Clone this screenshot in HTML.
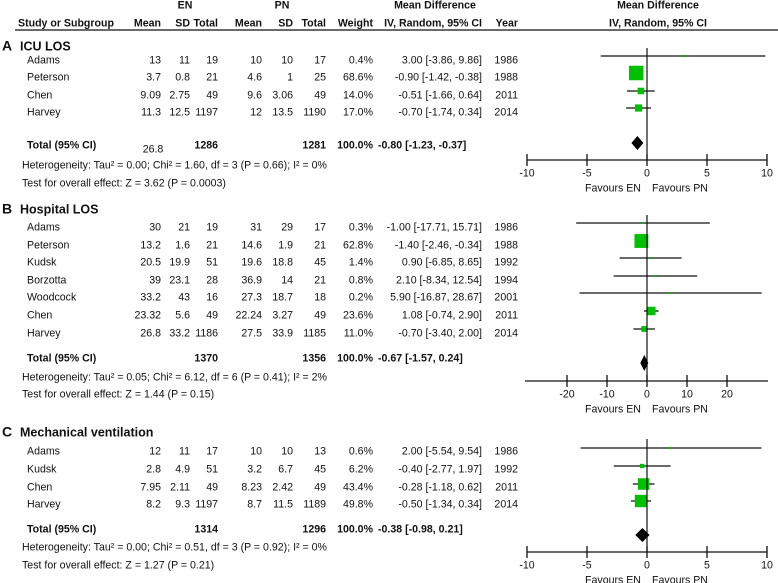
<!DOCTYPE html>
<html><head><meta charset="utf-8"><style>
body{margin:0;background:#fff}
svg{display:block;font-family:"Liberation Sans",Arial,sans-serif;font-size:10.6px;fill:#111}
.b{font-weight:bold}
</style></head><body>
<svg id="c" width="778" height="583" viewBox="0 0 778 583"></svg>
<script>
const panelLabels=["A","B","C"];
const panelTitles=["ICU LOS","Hospital LOS","Mechanical ventilation"];
const studiesA=["Adams","Peterson","Chen","Harvey"];
const studiesB=["Adams","Peterson","Kudsk","Borzotta","Woodcock","Chen","Harvey"];
const studiesC=["Adams","Kudsk","Chen","Harvey"];
const tableA=[["13","11","19","10","10","17","0.4%","3.00 [-3.86, 9.86]","1986"],["3.7","0.8","21","4.6","1","25","68.6%","-0.90 [-1.42, -0.38]","1988"],["9.09","2.75","49","9.6","3.06","49","14.0%","-0.51 [-1.66, 0.64]","2011"],["11.3","12.5","1197","12","13.5","1190","17.0%","-0.70 [-1.74, 0.34]","2014"]];
const tableB=[["30","21","19","31","29","17","0.3%","-1.00 [-17.71, 15.71]","1986"],["13.2","1.6","21","14.6","1.9","21","62.8%","-1.40 [-2.46, -0.34]","1988"],["20.5","19.9","51","19.6","18.8","45","1.4%","0.90 [-6.85, 8.65]","1992"],["39","23.1","28","36.9","14","21","0.8%","2.10 [-8.34, 12.54]","1994"],["33.2","43","16","27.3","18.7","18","0.2%","5.90 [-16.87, 28.67]","2001"],["23.32","5.6","49","22.24","3.27","49","23.6%","1.08 [-0.74, 2.90]","2011"],["26.8","33.2","1186","27.5","33.9","1185","11.0%","-0.70 [-3.40, 2.00]","2014"]];
const tableC=[["12","11","17","10","10","13","0.6%","2.00 [-5.54, 9.54]","1986"],["2.8","4.9","51","3.2","6.7","45","6.2%","-0.40 [-2.77, 1.97]","1992"],["7.95","2.11","49","8.23","2.42","49","43.4%","-0.28 [-1.18, 0.62]","2011"],["8.2","9.3","1197","8.7","11.5","1189","49.8%","-0.50 [-1.34, 0.34]","2014"]];
const meanA=[3.00,-0.90,-0.51,-0.70], lowA=[-3.86,-1.42,-1.66,-1.74], highA=[9.86,-0.38,0.64,0.34], weightA=[0.4,68.6,14.0,17.0];
const meanB=[-1.00,-1.40,0.90,2.10,5.90,1.08,-0.70], lowB=[-17.71,-2.46,-6.85,-8.34,-16.87,-0.74,-3.40], highB=[15.71,-0.34,8.65,12.54,28.67,2.90,2.00], weightB=[0.3,62.8,1.4,0.8,0.2,23.6,11.0];
const meanC=[2.00,-0.40,-0.28,-0.50], lowC=[-5.54,-2.77,-1.18,-1.34], highC=[9.54,1.97,0.62,0.34], weightC=[0.6,6.2,43.4,49.8];
const totalsRow=[["1286","1281","100.0%","-0.80 [-1.23, -0.37]"],["1370","1356","100.0%","-0.67 [-1.57, 0.24]"],["1314","1296","100.0%","-0.38 [-0.98, 0.21]"]];
const totalMean=[-0.80,-0.67,-0.38], totalLow=[-1.23,-1.57,-0.98], totalHigh=[-0.37,0.24,0.21];
const hetText=["Heterogeneity: Tau² = 0.00; Chi² = 1.60, df = 3 (P = 0.66); I² = 0%","Heterogeneity: Tau² = 0.05; Chi² = 6.12, df = 6 (P = 0.41); I² = 2%","Heterogeneity: Tau² = 0.00; Chi² = 0.51, df = 3 (P = 0.92); I² = 0%"];
const testText=["Test for overall effect: Z = 3.62 (P = 0.0003)","Test for overall effect: Z = 1.44 (P = 0.15)","Test for overall effect: Z = 1.27 (P = 0.21)"];
const ticksA=[-10,-5,0,5,10], ticksB=[-20,-10,0,10,20], ticksC=[-10,-5,0,5,10];

const svg=document.getElementById('c');const NS="http://www.w3.org/2000/svg";
function mk(tag,at,txt){const e=document.createElementNS(NS,tag);for(const k in at)e.setAttribute(k,at[k]);if(txt!=null)e.textContent=txt;svg.appendChild(e);return e;}
function T(x,y,s,anchor,cls,name){const e=mk('text',{x:x,y:y+3.7,'text-anchor':anchor||'start',class:cls||''},s);

return e;}
T(185,5,"EN","middle","b","en-header");T(282,5,"PN","middle","b","pn-header");
T(435,5,"Mean Difference","middle","b","md-header");T(658,5,"Mean Difference","middle","b","md-plot-header");
const hx=[[18,"Study or Subgroup","start"],[161,"Mean","end"],[190,"SD","end"],[218,"Total","end"],[262,"Mean","end"],[293,"SD","end"],[326,"Total","end"],[373,"Weight","end"],[482,"IV, Random, 95% CI","end"],[518,"Year","end"]];
hx.forEach(h=>T(h[0],23,h[1],h[2],"b","column-header"));
T(658,23,"IV, Random, 95% CI","middle","b","md-plot-subheader");
let hl=mk('line',{x1:15,y1:30,x2:778,y2:30,stroke:'#111','stroke-width':1.2});

const colX=[161,190,218,262,293,326,373,482,518];
const panels=[
 {studies:studiesA,table:tableA,mean:meanA,low:lowA,high:highA,w:weightA,ticks:ticksA,max:10,x1:767,title:47,rows:[60,77,95,112],total:145,het:165,test:183,lineOff:-4,dia:143,axis:160,axL:527,axR:767},
 {studies:studiesB,table:tableB,mean:meanB,low:lowB,high:highB,w:weightB,ticks:ticksB,max:30.25,x1:768,title:210,rows:[227,245,262,280,297,315,333],total:358,het:377,test:394,lineOff:-4,dia:363,axis:381,axL:525,axR:768},
 {studies:studiesC,table:tableC,mean:meanC,low:lowC,high:highC,w:weightC,ticks:ticksC,max:10,x1:767,title:433,rows:[451,469,487,504],total:529,het:547,test:565,lineOff:-3,dia:535,axis:552,axL:527,axR:767}];
panels.forEach((p,i)=>{
 const sx=v=>647+(v)*((p.x1-647)/p.max);
 T(2,p.title,panelLabels[i],"start","b","panel-label").setAttribute('font-size','14');
 T(20,p.title,panelTitles[i],"start","b","panel-title").setAttribute('font-size','12.5');
 p.studies.forEach((s,j)=>{const y=p.rows[j];
  T(27,y,s,"start","","study-name");
  p.table[j].forEach((v,k)=>T(colX[k],y,v,"end","","table-cell"));
  const ly=y+p.lineOff;
  let l=mk('line',{x1:Math.max(sx(p.low[j]),p.axL),y1:ly,x2:Math.min(sx(p.high[j]),p.axR),y2:ly,stroke:'#111','stroke-width':1.3});
  
  const sz=Math.max(2,Math.sqrt(p.w[j])*1.75);
  let r=mk('rect',{x:sx(p.mean[j])-sz/2,y:ly-sz/2,width:sz,height:sz,fill:'#00c000'});
  
 });
 T(27,p.total,"Total (95% CI)","start","b","total-label");
 const tr=totalsRow[i];T(218,p.total,tr[0],"end","b","total-en");T(326,p.total,tr[1],"end","b","total-pn");T(373,p.total,tr[2],"end","b","total-weight");T(378,p.total,tr[3],"start","b","total-ci");
 T(22,p.het,hetText[i],"start","","heterogeneity");T(22,p.test,testText[i],"start","","overall-effect");
 let z=mk('line',{x1:647,y1:p.rows[0]-12,x2:647,y2:p.axis,stroke:'#111','stroke-width':1.2});
 
 const a=sx(totalLow[i]),b=sx(totalHigh[i]),c=sx(totalMean[i]);const hw=Math.max(i==1?4:6,(b-a)/2);
 const hh=i==1?8:7;
 let d=mk('polygon',{points:`${c-hw},${p.dia} ${c},${p.dia-hh} ${c+hw},${p.dia} ${c},${p.dia+hh}`,fill:'#000'});
 
 let ax=mk('line',{x1:p.axL,y1:p.axis,x2:p.axR,y2:p.axis,stroke:'#111','stroke-width':1.3});
 
 p.ticks.forEach(t=>{const x=sx(t);
  let tk=mk('line',{x1:x,y1:p.axis-6,x2:x,y2:p.axis+6,stroke:'#111','stroke-width':1.3});
  
  T(x,p.axis+13,String(t),"middle","","x-tick-label");});
 T(613,p.axis+28,"Favours EN","middle","","favours-en");T(680,p.axis+28,"Favours PN","middle","","favours-pn");
});
T(153,149,"26.8","middle","","stray-value");
</script>
</body></html>
